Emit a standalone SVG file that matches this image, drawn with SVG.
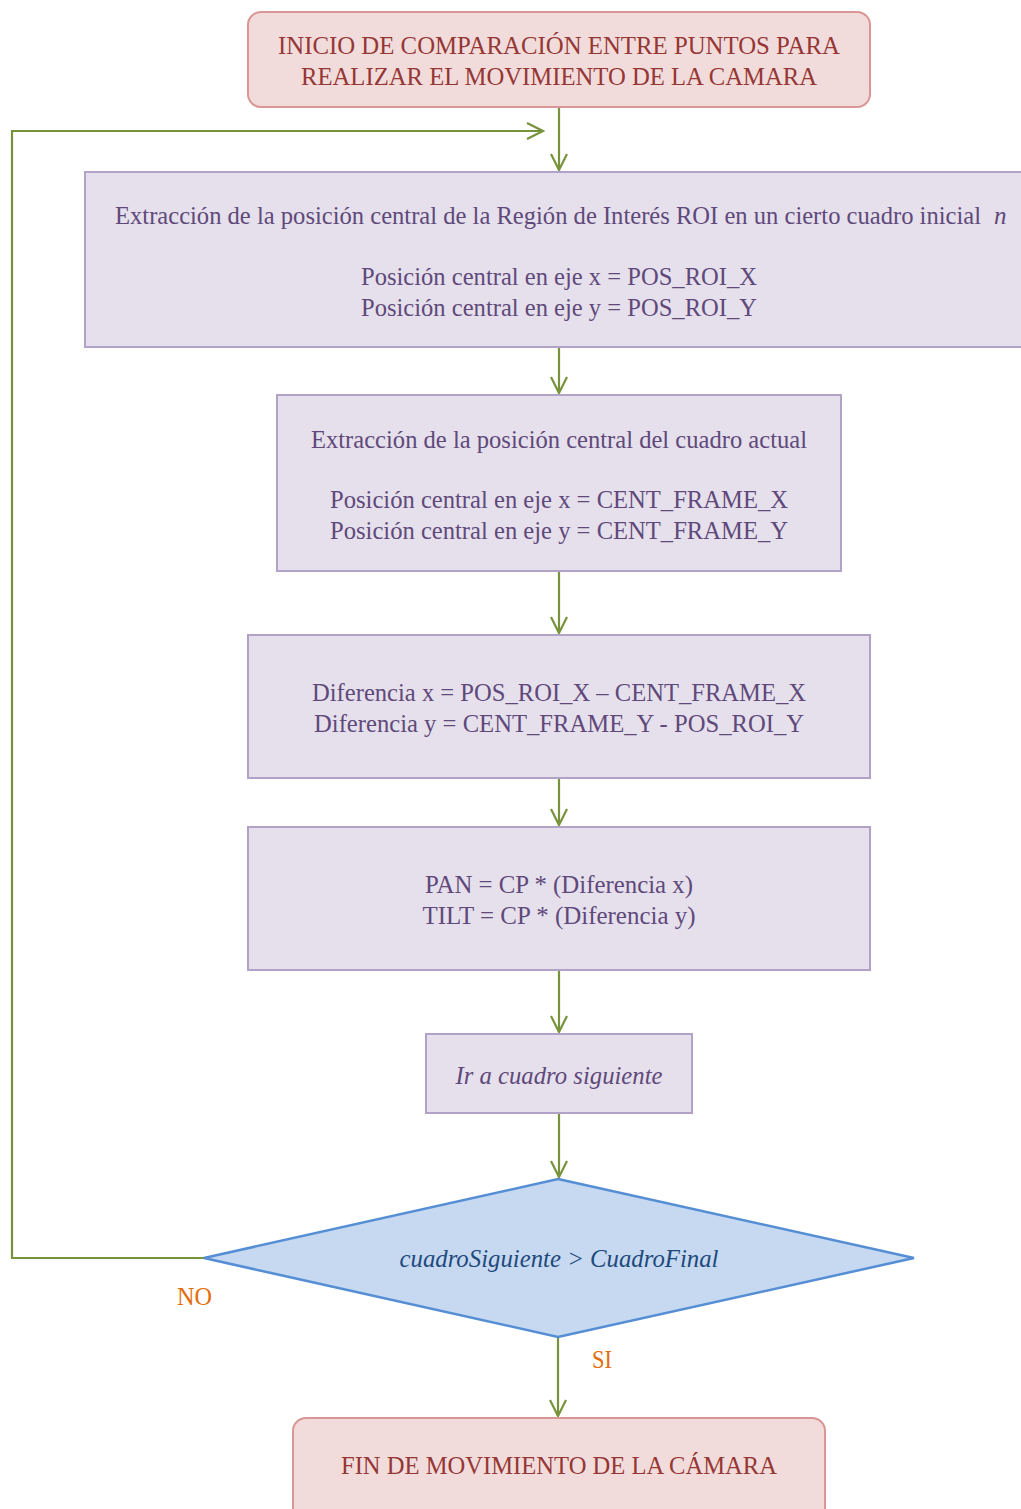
<svg xmlns="http://www.w3.org/2000/svg" width="1021" height="1509" viewBox="0 0 1021 1509">
<defs>
<style>
.t{font-family:"Liberation Serif","Times New Roman",serif;font-size:25px;text-anchor:middle}
.term{fill:#f2dcdb;stroke:#d99694;stroke-width:2}
.termt{fill:#953735}
.proc{fill:#e5e0ec;stroke:#b3a2c7;stroke-width:2}
.proct{fill:#5f497a}
.dec{fill:#c6d9f0;stroke:#558ed5;stroke-width:2.5}
.dect{fill:#1f497d;font-style:italic}
.lbl{fill:#e46c0a}
.c{fill:none;stroke:#77933c;stroke-width:2.2}
</style>
<marker id="arr" viewBox="0 0 20 20" refX="18" refY="10" markerWidth="20" markerHeight="20" markerUnits="userSpaceOnUse" orient="auto">
<path d="M2,2 L18,10 L2,18" fill="none" stroke="#77933c" stroke-width="2.2"/>
</marker>
</defs>
<rect width="1021" height="1509" fill="#ffffff"/>
<g id="connectors">
<path class="c" d="M559,107 V170" marker-end="url(#arr)"/>
<path class="c" d="M204,1258 H12 V131 H543" marker-end="url(#arr)"/>
<path class="c" d="M559,347 V393" marker-end="url(#arr)"/>
<path class="c" d="M559,571 V633" marker-end="url(#arr)"/>
<path class="c" d="M559,778 V825" marker-end="url(#arr)"/>
<path class="c" d="M559,970 V1032" marker-end="url(#arr)"/>
<path class="c" d="M559,1113 V1177" marker-end="url(#arr)"/>
<path class="c" d="M558,1337 V1416" marker-end="url(#arr)"/>
</g>
<g id="start">
<rect class="term" x="248" y="12" width="622" height="95" rx="13"/>
<text class="t termt" x="559" y="53.5" textLength="562" lengthAdjust="spacingAndGlyphs">INICIO DE COMPARACIÓN ENTRE PUNTOS PARA</text>
<text class="t termt" x="559" y="84.5" textLength="516" lengthAdjust="spacingAndGlyphs">REALIZAR EL MOVIMIENTO DE LA CAMARA</text>
</g>
<g id="roi">
<rect class="proc" x="85" y="172" width="945" height="175"/>
<text class="t proct" x="115" y="224" style="text-anchor:start" textLength="866" lengthAdjust="spacingAndGlyphs">Extracción de la posición central de la Región de Interés ROI en un cierto cuadro inicial</text>
<text class="t proct" x="994" y="224" style="text-anchor:start;font-style:italic">n</text>
<text class="t proct" x="559" y="285" textLength="396" lengthAdjust="spacingAndGlyphs">Posición central en eje x = POS_ROI_X</text>
<text class="t proct" x="559" y="316" textLength="396" lengthAdjust="spacingAndGlyphs">Posición central en eje y = POS_ROI_Y</text>
</g>
<g id="frame">
<rect class="proc" x="277" y="395" width="564" height="176"/>
<text class="t proct" x="559" y="448" textLength="496" lengthAdjust="spacingAndGlyphs">Extracción de la posición central del cuadro actual</text>
<text class="t proct" x="559" y="508" textLength="458" lengthAdjust="spacingAndGlyphs">Posición central en eje x = CENT_FRAME_X</text>
<text class="t proct" x="559" y="539" textLength="458" lengthAdjust="spacingAndGlyphs">Posición central en eje y = CENT_FRAME_Y</text>
</g>
<g id="diff">
<rect class="proc" x="248" y="635" width="622" height="143"/>
<text class="t proct" x="559" y="701" textLength="494" lengthAdjust="spacingAndGlyphs">Diferencia x = POS_ROI_X – CENT_FRAME_X</text>
<text class="t proct" x="559" y="732" textLength="490" lengthAdjust="spacingAndGlyphs">Diferencia y = CENT_FRAME_Y - POS_ROI_Y</text>
</g>
<g id="pantilt">
<rect class="proc" x="248" y="827" width="622" height="143"/>
<text class="t proct" x="559" y="893" textLength="268" lengthAdjust="spacingAndGlyphs">PAN = CP * (Diferencia x)</text>
<text class="t proct" x="559" y="923.5" textLength="273" lengthAdjust="spacingAndGlyphs">TILT = CP * (Diferencia y)</text>
</g>
<g id="next">
<rect class="proc" x="426" y="1034" width="266" height="79"/>
<text class="t proct" x="559" y="1084" font-style="italic" textLength="207" lengthAdjust="spacingAndGlyphs">Ir a cuadro siguiente</text>
</g>
<g id="decision">
<polygon class="dec" points="558,1179 914,1258 558,1337 204,1258"/>
<text class="t dect" x="559" y="1267" textLength="319" lengthAdjust="spacingAndGlyphs">cuadroSiguiente &gt; CuadroFinal</text>
</g>
<g id="labels">
<text class="t lbl" x="194.5" y="1305" textLength="35" lengthAdjust="spacingAndGlyphs">NO</text>
<text class="t lbl" x="602" y="1368" textLength="20" lengthAdjust="spacingAndGlyphs">SI</text>
</g>
<g id="end">
<rect class="term" x="293" y="1418" width="532" height="110" rx="13"/>
<text class="t termt" x="559" y="1474" textLength="436" lengthAdjust="spacingAndGlyphs">FIN DE MOVIMIENTO DE LA CÁMARA</text>
</g>
</svg>
